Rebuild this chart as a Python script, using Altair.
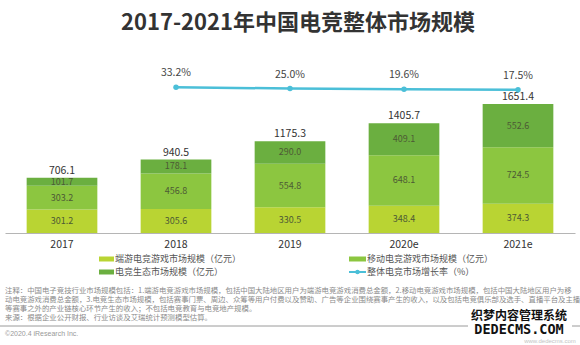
import altair as alt
import pandas as pd

years = ["2017", "2018", "2019", "2020e", "2021e"]
pc_vals = [301.2, 305.6, 330.5, 348.4, 374.3]
mobile_vals = [303.2, 456.8, 554.8, 648.1, 724.5]
eco_vals = [101.7, 178.1, 290.0, 409.1, 552.6]
totals = [706.1, 940.5, 1175.3, 1405.7, 1651.4]
growth_years = ["2018", "2019", "2020e", "2021e"]
growth = [33.2, 25.0, 19.6, 17.5]

series_names = ["端游电竞游戏市场规模（亿元）", "移动电竞游戏市场规模（亿元）", "电竞生态市场规模（亿元）"]
series_colors = ["#B9D433", "#8CC640", "#6BAF40"]
line_color = "#4BBFD8"

footnotes = [
    "注释：中国电子竞技行业市场规模包括：1.端游电竞游戏市场规模，包括中国大陆地区用户为端游电竞游戏消费总金额，2.移动电竞游戏市场规模，包括中国大陆地区用户为移",
    "动电竞游戏消费总金额，3.电竞生态市场规模，包括赛事门票、周边、众筹等用户付费以及赞助、广告等企业围绕赛事产生的收入，以及包括电竞俱乐部及选手、直播平台及主播",
    "等赛事之外的产业链核心环节产生的收入；不包括电竞教育与电竞地产规模。",
    "来源：根据企业公开财报、行业访谈及艾瑞统计预测模型估算。",
]

FONT = "Noto Sans CJK SC"

rows = []
for i, y in enumerate(years):
    for k, vals in enumerate([pc_vals, mobile_vals, eco_vals]):
        rows.append({"year": y, "series": series_names[k], "order": k, "value": vals[i]})
seg = pd.DataFrame(rows)
tot = pd.DataFrame({"year": years, "total": totals})
gr = pd.DataFrame({"year": growth_years, "growth": growth})

xenc = alt.X("year:N", sort=years,
             scale=alt.Scale(paddingInner=0.38, paddingOuter=0.19),
             axis=alt.Axis(title=None, labelAngle=0, ticks=False, labelPadding=6,
                           labelFontSize=10.5, labelColor="#333", labelFont=FONT,
                           domainColor="#b5b5b5", domainWidth=1.2, grid=False))
yscale = alt.Scale(domain=[0, 2470])

base = alt.Chart(seg).transform_stack(
    stack="value", groupby=["year"], sort=[alt.SortField("order")], as_=["y0", "y1"]
)
bars = base.mark_bar().encode(
    x=xenc,
    y=alt.Y("y0:Q", scale=yscale, axis=None),
    y2="y1:Q",
    color=alt.Color("series:N", scale=alt.Scale(domain=series_names, range=series_colors), legend=None),
)
seg_labels = base.transform_calculate(mid="(datum.y0 + datum.y1) / 2").mark_text(
    font=FONT, fontSize=9, color="#4d5a35", baseline="middle"
).encode(
    x=alt.X("year:N", sort=years),
    y=alt.Y("mid:Q", scale=yscale, axis=None),
    text=alt.Text("value:Q", format=".1f"),
)
tot_labels = alt.Chart(tot).mark_text(
    font=FONT, fontSize=10.5, color="#333", baseline="bottom", dy=-2
).encode(
    x=alt.X("year:N", sort=years),
    y=alt.Y("total:Q", scale=yscale, axis=None),
    text=alt.Text("total:Q", format=".1f"),
)
bar_layer = alt.layer(bars, seg_labels, tot_labels)

gscale = alt.Scale(domain=[-919, 342])
gline = alt.Chart(gr).mark_line(color=line_color, strokeWidth=2.5).encode(
    x=alt.X("year:N", sort=years),
    y=alt.Y("growth:Q", scale=gscale, axis=None),
)
gpts = alt.Chart(gr).mark_point(filled=True, color=line_color, size=30, opacity=1).encode(
    x=alt.X("year:N", sort=years),
    y=alt.Y("growth:Q", scale=gscale, axis=None),
)
glabels = alt.Chart(gr).transform_calculate(
    lab="format(datum.growth, '.1f') + '%'"
).mark_text(font=FONT, fontSize=10.5, color="#444", dy=-14).encode(
    x=alt.X("year:N", sort=years),
    y=alt.Y("growth:Q", scale=gscale, axis=None),
    text="lab:N",
)
line_layer = alt.layer(gline, gpts, glabels)

one = pd.DataFrame({"a": [0]})


def txt(s, x, y, size, color, weight="normal", align="left", font=FONT):
    return alt.Chart(one).mark_text(
        text=s, font=font, fontSize=size, color=color, fontWeight=weight,
        align=align, baseline="middle"
    ).encode(x=alt.value(x), y=alt.value(y))


def box(x1, x2, y1, y2, color):
    return alt.Chart(one).mark_rect(color=color).encode(
        x=alt.value(x1), x2=alt.value(x2), y=alt.value(y1), y2=alt.value(y2)
    )


annots = [
    txt("2017-2021年中国电竞整体市场规模", 293, -17, 22, "#333", "bold", "center"),
    # legend
    box(94, 109, 216.5, 221.5, series_colors[0]),
    txt(series_names[0], 110, 219, 9, "#555"),
    box(344, 361, 216.5, 221.5, series_colors[1]),
    txt(series_names[1], 362, 219, 9, "#555"),
    box(94, 109, 229.5, 234.5, series_colors[2]),
    txt(series_names[2], 110, 232, 9, "#555"),
    alt.Chart(one).mark_rule(color=line_color, strokeWidth=2).encode(
        x=alt.value(344), x2=alt.value(361), y=alt.value(232)),
    alt.Chart(one).mark_point(filled=True, color=line_color, size=20, opacity=1).encode(
        x=alt.value(352.5), y=alt.value(232)),
    txt("整体电竞市场增长率（%）", 362, 232, 9, "#555"),
]
for i, line in enumerate(footnotes):
    annots.append(txt(line, 0, 251 + 9 * i, 7.4, "#8a8a8a"))
annots += [
    alt.Chart(one).mark_rule(color="#9a9a9a", strokeWidth=1).encode(
        x=alt.value(-5), x2=alt.value(575), y=alt.value(286)),
    txt("©2020.4 iResearch Inc.", 0, 294, 7, "#999", font="Liberation Sans"),
    box(463, 567, 268, 297, "white"),
    txt("织梦内容管理系统", 514, 276, 12, "#111", "bold", "center"),
    txt("DEDECMS.COM", 514, 290, 13.5, "#111", "bold", "center", font="DejaVu Sans Mono"),
    txt("www.dedecms.com", 545, 300.5, 6, "#c4c4c4", "normal", "center", font="Liberation Sans"),
]

chart = alt.layer(bar_layer, line_layer, *annots).resolve_scale(y="independent").properties(
    width=570, height=193,
    autosize=alt.AutoSizeParams(type="none"),
    padding={"left": 5, "right": 5, "top": 40, "bottom": 112},
    background="white",
).configure_view(stroke=None)

chart.save("out.html", embed_options={"renderer": "svg", "actions": False})
